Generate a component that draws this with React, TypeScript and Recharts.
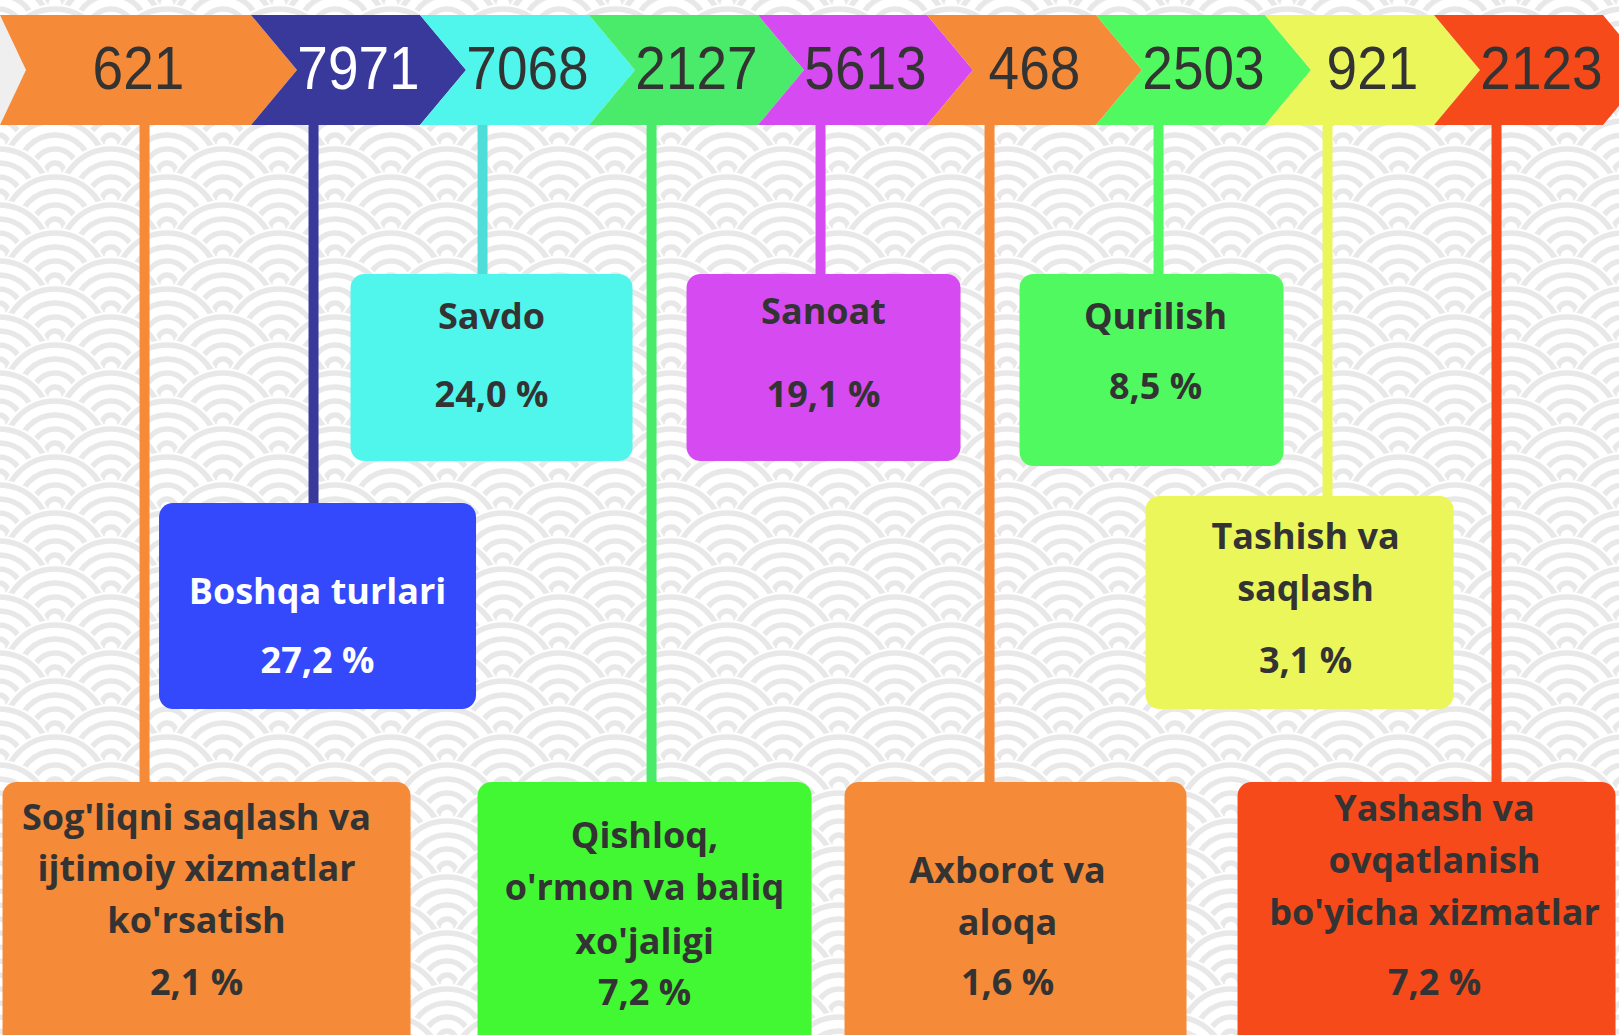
import React from 'react';
import { ComposedChart, Bar, XAxis, YAxis } from 'recharts';

// ---------- data ----------
const sectorLabelLines: string[][] = [
  ["Sog'liqni saqlash va", 'ijtimoiy xizmatlar', "ko'rsatish"],
  ['Boshqa turlari'],
  ['Savdo'],
  ['Qishloq,', "o'rmon va baliq", "xo'jaligi"],
  ['Sanoat'],
  ['Axborot va', 'aloqa'],
  ['Qurilish'],
  ['Tashish va', 'saqlash'],
  ['Yashash va', 'ovqatlanish', "bo'yicha xizmatlar"],
];
const sectors = sectorLabelLines.map((l) => l.join(' '));
const counts = [621, 7971, 7068, 2127, 5613, 468, 2503, 921, 2123];
const shares = [2.1, 27.2, 24.0, 7.2, 19.1, 1.6, 8.5, 3.1, 7.2];

// ---------- styles ----------
const chevronColors = ['#F58A38', '#39399C', '#50F5EC', '#4AEB6A', '#D64BF1', '#F58A38', '#50F95F', '#EAF65A', '#F64A1A'];
const lineColors = ['#F58A38', '#39399C', '#4FDDD7', '#4AEB6A', '#D64BF1', '#F58A38', '#50F95F', '#EAF65A', '#F64A1A'];
const boxColors = ['#F58A38', '#3349FB', '#50F5EC', '#42F832', '#D64BF1', '#F58A38', '#50F95F', '#EBF65A', '#F64A1A'];
const numberColors = ['#333333', '#FFFFFF', '#333333', '#333333', '#333333', '#333333', '#333333', '#333333', '#333333'];
const boxTextColors = ['#333333', '#FFFFFF', '#333333', '#333333', '#333333', '#333333', '#333333', '#333333', '#333333'];

// box layout (relative to the connector line): dx of box centre, width, top, height, line offsets, pct offset, text dx
const boxLayout = [
  { dx: 62, w: 408, top: 782, h: 290, lines: [34, 85, 137], pct: 199, tdx: -10 },
  { dx: 4, w: 317, top: 503, h: 206, lines: [87], pct: 156, tdx: 0 },
  { dx: 9, w: 282, top: 274, h: 187, lines: [41], pct: 119, tdx: 0 },
  { dx: -7, w: 334, top: 782, h: 290, lines: [52, 104, 158], pct: 209, tdx: 0 },
  { dx: 3, w: 274, top: 274, h: 187, lines: [36], pct: 119, tdx: 0 },
  { dx: 26, w: 342, top: 782, h: 290, lines: [87, 139], pct: 199, tdx: -8 },
  { dx: -7, w: 264, top: 274, h: 192, lines: [41], pct: 111, tdx: 4 },
  { dx: -28, w: 308, top: 496, h: 213, lines: [39, 91], pct: 163, tdx: 6 },
  { dx: -70, w: 378, top: 782, h: 290, lines: [25, 77, 129], pct: 199, tdx: 8 },
];

const W = 1619;
const H = 1035;
const CHEV_TOP = 15;
const CHEV_BOT = 125;
const TIP = 46;
const NUM_Y = 67;
const BOX_FONT = 36;

const chartData = sectors.map((s, i) => ({ sector: s, count: counts[i], share: shares[i] }));

const fmtShare = (v: number) => v.toFixed(1).replace('.', ',') + ' %';

const SectorShape = (props: any) => {
  const { x, width, index } = props;
  const i: number = index;
  const start = x;
  const end = x + width;
  const left = i === 0 ? 0 : start;
  const notch = i === 0 ? 26 : TIP;
  const mid = (CHEV_TOP + CHEV_BOT) / 2;
  const pts = [
    [left, CHEV_TOP],
    [end, CHEV_TOP],
    [end + TIP, mid],
    [end, CHEV_BOT],
    [left, CHEV_BOT],
    [left + notch, mid],
  ]
    .map((p) => p.join(','))
    .join(' ');
  const numX = (left + notch + end) / 2;
  const lineX = start + 0.37 * width;
  const b = boxLayout[i];
  const cx = lineX + b.dx;
  const fontFam = "'Open Sans', Lato, sans-serif";
  return (
    <g>
      {i === 0 && (
        <polygon points={`0,${CHEV_TOP} ${notch},${mid} 0,${CHEV_BOT}`} fill="#EFEFEF" />
      )}
      <polygon points={pts} fill={chevronColors[i]} />
      <text
        x={numX}
        y={NUM_Y}
        textAnchor="middle"
        dominantBaseline="central"
        fontFamily="'Liberation Sans', Arial, sans-serif"
        fontSize={55}
        fill={numberColors[i]}
        transform={`translate(${numX},${NUM_Y}) scale(1,1.12) translate(${-numX},${-NUM_Y})`}
      >
        {counts[i]}
      </text>
      <rect x={lineX - 5} y={CHEV_BOT} width={10} height={b.top - CHEV_BOT + 2} fill={lineColors[i]} />
      <rect x={cx - b.w / 2} y={b.top} width={b.w} height={b.h} rx={14} ry={14} fill={boxColors[i]} />
      {sectorLabelLines[i].map((ln, k) => (
        <text
          key={k}
          x={cx + b.tdx}
          y={b.top + b.lines[k]}
          textAnchor="middle"
          dominantBaseline="central"
          fontFamily={fontFam}
          fontWeight={700}
          fontSize={BOX_FONT}
          fill={boxTextColors[i]}
        >
          {ln}
        </text>
      ))}
      <text
        x={cx + b.tdx}
        y={b.top + b.pct}
        textAnchor="middle"
        dominantBaseline="central"
        fontFamily={fontFam}
        fontWeight={700}
        fontSize={BOX_FONT}
        fill={boxTextColors[i]}
      >
        {fmtShare(shares[i])}
      </text>
    </g>
  );
};

const R = 56;
const ringRadii = [51, 37, 23, 9];
const tileCircles: [number, number][] = [
  [56, -28],
  [0, 0],
  [112, 0],
  [56, 28],
  [0, 56],
  [112, 56],
  [56, 84],
];

export default function App() {
  return (
    <div style={{ position: 'absolute', left: 0, top: 0, width: W, height: H, overflow: 'hidden', background: '#fff' }}>
      <ComposedChart
        width={W}
        height={H}
        data={chartData}
        margin={{ top: 0, right: 16, bottom: 0, left: 82 }}
        barCategoryGap={0}
        barGap={0}
      >
        <defs>
          <pattern id="seigaiha" x={55} y={4} width={112} height={56} patternUnits="userSpaceOnUse">
            <rect x={0} y={0} width={112} height={56} fill="#ffffff" />
            {tileCircles.map(([px, py], k) => (
              <g key={k}>
                <circle cx={px} cy={py} r={R} fill="#ffffff" />
                {ringRadii.map((r) => (
                  <circle key={r} cx={px} cy={py} r={r} fill="none" stroke="#E8E8E8" strokeWidth={5.5} />
                ))}
              </g>
            ))}
          </pattern>
        </defs>
        <rect x={0} y={0} width={W} height={H} fill="url(#seigaiha)" />
        <XAxis dataKey="sector" type="category" hide />
        <YAxis type="number" domain={[0, 1]} hide />
        <Bar dataKey={() => 1} shape={SectorShape} isAnimationActive={false} />
      </ComposedChart>
    </div>
  );
}
